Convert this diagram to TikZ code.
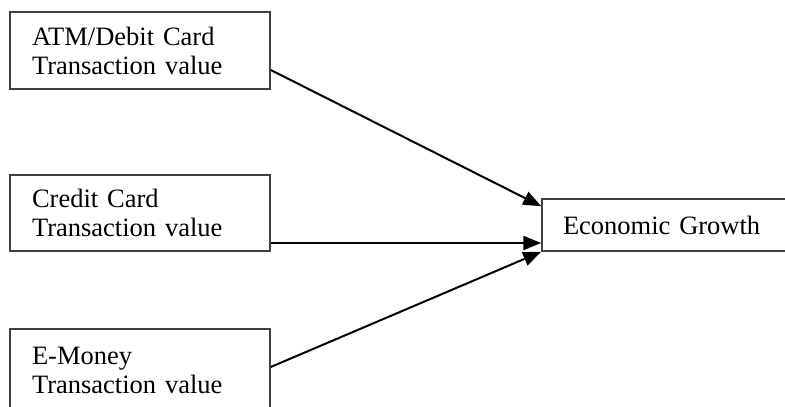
\documentclass[tikz,border=0pt]{standalone}
\usepackage{fontspec}
\setmainfont{Liberation Serif}
\usetikzlibrary{arrows.meta}
\definecolor{boxEdge}{HTML}{404040}
\begin{document}
\begin{tikzpicture}[
  x=1pt,y=-1pt,
  font=\fontsize{26.5}{29}\selectfont,>={Triangle[length=18pt,width=14pt]},
  factor/.style={draw=boxEdge,line width=1.5pt,minimum width=260pt,minimum height=77pt,
                 text width=216pt,inner xsep=22pt,align=left},
  outcome/.style={draw=boxEdge,line width=1.5pt,minimum width=262pt,minimum height=52pt,
                  text width=220pt,inner xsep=21pt,align=left},
  link/.style={->,black,line width=2pt}
]
\clip (0,0) rectangle (785,407);
\node[factor]  (atm)    at (140,50.5)  {ATM/Debit Card\\Transaction value};
\node[factor,minimum height=76pt] (credit) at (140,213) {Credit Card\\Transaction value};
\node[factor,minimum height=83pt] (emoney) at (140,370.5) {E-Money\\Transaction value};
\node[outcome] (growth) at (673,225)   {Economic Growth};
\draw[link] ([yshift=-19.5pt]atm.east) -- ([yshift=-8pt]growth.north west);
\draw[link] ([yshift=-30pt]credit.east) -- ([yshift=-18pt]growth.west);
\draw[link] ([yshift=3.5pt]emoney.east) -- (growth.south west);
\end{tikzpicture}
\end{document}
